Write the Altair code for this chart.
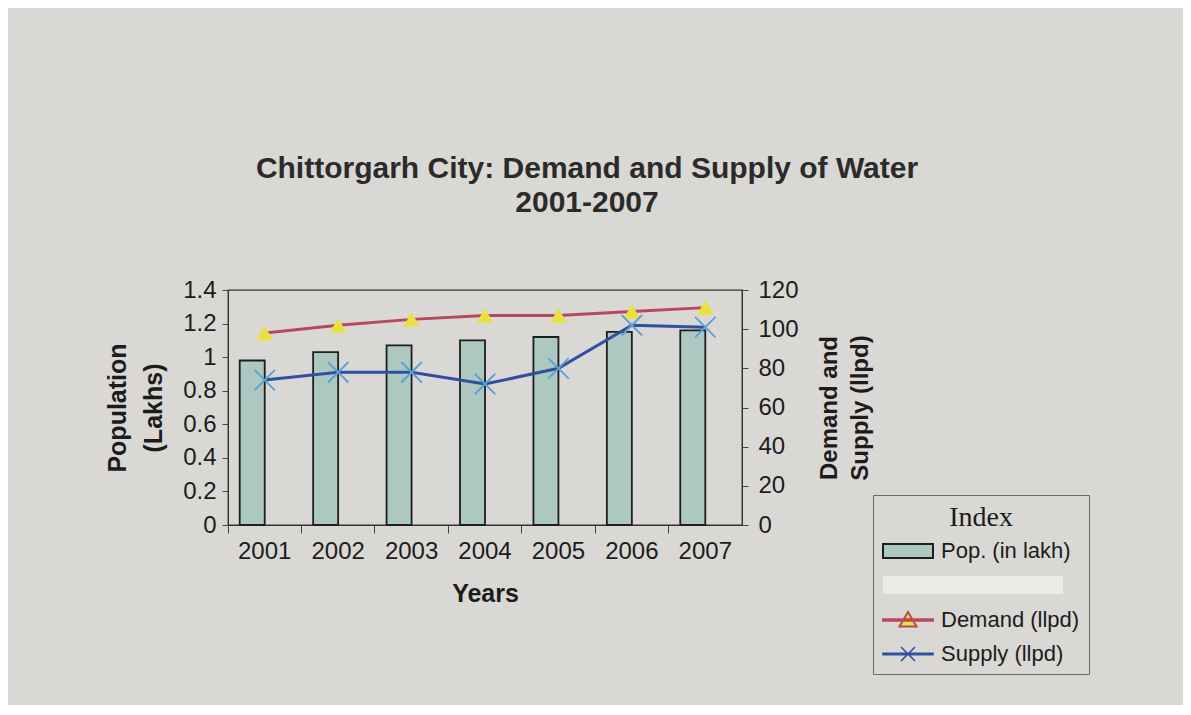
import altair as alt
import pandas as pd

# ---------------- data ----------------
years = ["2001", "2002", "2003", "2004", "2005", "2006", "2007"]
population = [0.98, 1.03, 1.07, 1.10, 1.12, 1.15, 1.16]
demand = [98, 102, 105, 107, 107, 109, 111]
supply = [74, 78, 78, 72, 80, 102, 101]
series_names = ["Pop. (in lakh)", " ", "Demand (llpd)", "Supply (llpd)"]
left_ticks = [0, 0.2, 0.4, 0.6, 0.8, 1.0, 1.2, 1.4]
right_ticks = [0, 20, 40, 60, 80, 100, 120]

title_lines = ["Chittorgarh City: Demand and Supply of Water", "2001-2007"]
x_title = "Years"
left_title = ["Population", "(Lakhs)"]
right_title = ["Demand and", "Supply (llpd)"]
legend_title = "Index"

# ---------------- style ----------------
PAPER = "#d9d8d4"
BAR_FILL = "#adc8c1"
BLANK = "#eceae6"
DEMAND_LINE = "#b9485c"
DEMAND_MARK = "#e8e23e"
SUPPLY_LINE = "#30509f"
SUPPLY_MARK = "#5d9fd6"
INK = "#1c1c1c"
FONT = "Liberation Sans"

pop_df = pd.DataFrame({"year": years, "value": population, "series": series_names[0]})
demand_df = pd.DataFrame({"year": years, "value": demand, "series": series_names[2]})
supply_df = pd.DataFrame({"year": years, "value": supply, "series": series_names[3]})

# colour scale drives the legend symbol fills
color_scale = alt.Scale(domain=series_names,
                        range=[BAR_FILL, BLANK, DEMAND_MARK, SUPPLY_LINE])


def by_entry(values, default, quote=True):
    q = "'" if quote else ""
    expr = f"{q}{default}{q}"
    for name, val in reversed(list(zip(series_names, values))):
        expr = f"datum.value === '{name}' ? {q}{val}{q} : {expr}"
    return expr


shape_expr = by_entry(
    ["M-1,-0.7H4V0.7H-1Z",
     "M-1,-0.9H17V0.9H-1Z",
     "M-1,-0.08H4V0.08H-1Z M1.5,-0.8L2.35,0.65L0.65,0.65Z",
     "M-1,-0.08H4V0.08H-1Z M0.8,-0.7L2.2,0.7M0.8,0.7L2.2,-0.7"],
    "square")
stroke_expr = by_entry(["#1e1e1e", BLANK, DEMAND_LINE, SUPPLY_LINE], BLANK)
sw_expr = by_entry([2, 0, 2, 1.6], 0, quote=False)

legend = alt.Legend(
    title=legend_title, orient="none", legendX=645, legendY=205,
    titleFont="Liberation Serif", titleFontSize=28, titleFontWeight="normal",
    titleColor=INK, titleAnchor="middle", titlePadding=8,
    labelFont=FONT, labelFontSize=22, labelColor=INK, labelOffset=37, labelLimit=400,
    symbolSize=400, rowPadding=12, padding=9, strokeColor="#6a6a6a",
    symbolType={"expr": shape_expr},
    symbolStrokeColor={"expr": stroke_expr},
    symbolStrokeWidth={"expr": sw_expr},
)

x_enc = alt.X(
    "year:N", title=x_title,
    scale=alt.Scale(paddingInner=0, paddingOuter=0),
    axis=alt.Axis(bandPosition=0, labelAngle=0, tickSize=8,
                  labelFontSize=24, labelPadding=6, titleFontSize=25,
                  titleFontWeight="bold", titlePadding=18),
)

y_left = alt.Y(
    "value:Q", scale=alt.Scale(domain=[0, 1.4], nice=False),
    axis=alt.Axis(values=left_ticks, format="~g", title=left_title, orient="left",
                  tickSize=6, labelPadding=6, labelFontSize=24, titleFontSize=25,
                  titleFontWeight="bold", titleLineHeight=36, titlePadding=16),
)

y_right = alt.Y(
    "value:Q", scale=alt.Scale(domain=[0, 120], nice=False),
    axis=alt.Axis(values=right_ticks, title=right_title, orient="right",
                  tickSize=6, labelPadding=10, labelFontSize=24, titleFontSize=24,
                  titleFontWeight="bold", titleLineHeight=31, titlePadding=-12,
                  titleAngle=270, titleBaseline="top"),
)

bars = alt.Chart(pop_df).mark_bar(width=25, xOffset=-12.5).encode(
    x=x_enc, y=y_left,
    color=alt.Color("series:N", scale=color_scale, legend=legend),
)
bar_outline = alt.Chart(pop_df).mark_bar(width=25, xOffset=-12.5, fillOpacity=0,
                                         stroke="#1e1e1e", strokeWidth=1.8).encode(
    x=x_enc, y=y_left,
)
left_layer = alt.layer(bars, bar_outline)

d_line = alt.Chart(demand_df).mark_line(strokeWidth=3, color=DEMAND_LINE).encode(
    x=x_enc, y=y_right)
d_pts = alt.Chart(demand_df).mark_point(shape="triangle-up", filled=True, size=280,
                                        color=DEMAND_MARK, opacity=1).encode(
    x=x_enc, y=y_right)
s_line = alt.Chart(supply_df).mark_line(strokeWidth=3, color=SUPPLY_LINE).encode(
    x=x_enc, y=y_right)
s_pts = alt.Chart(supply_df).mark_point(shape="M-1,-1L1,1M-1,1L1,-1", filled=False,
                                        size=420, strokeWidth=1.8,
                                        color=SUPPLY_MARK, opacity=1).encode(
    x=x_enc, y=y_right)

right_layer = alt.layer(d_line, d_pts, s_line, s_pts)

chart = alt.layer(left_layer, right_layer).resolve_scale(y="independent").properties(
    width=514, height=235,
    title=alt.TitleParams(text=title_lines, fontSize=30, font=FONT, fontWeight="bold",
                          color="#2b2b2b", anchor="middle", dx=102, offset=60,
                          lineHeight=34),
    autosize=alt.AutoSizeParams(type="none"),
    padding={"left": 220, "top": 282, "right": 441, "bottom": 180},
).configure(background=PAPER, font=FONT).configure_view(
    stroke="#333333", strokeWidth=1.3
).configure_axis(
    grid=False, domainColor="#333333", tickColor="#444444", labelColor=INK,
    titleColor=INK, labelFont=FONT, titleFont=FONT,
)

chart.save("out.html", embed_options={"renderer": "svg", "actions": False})
